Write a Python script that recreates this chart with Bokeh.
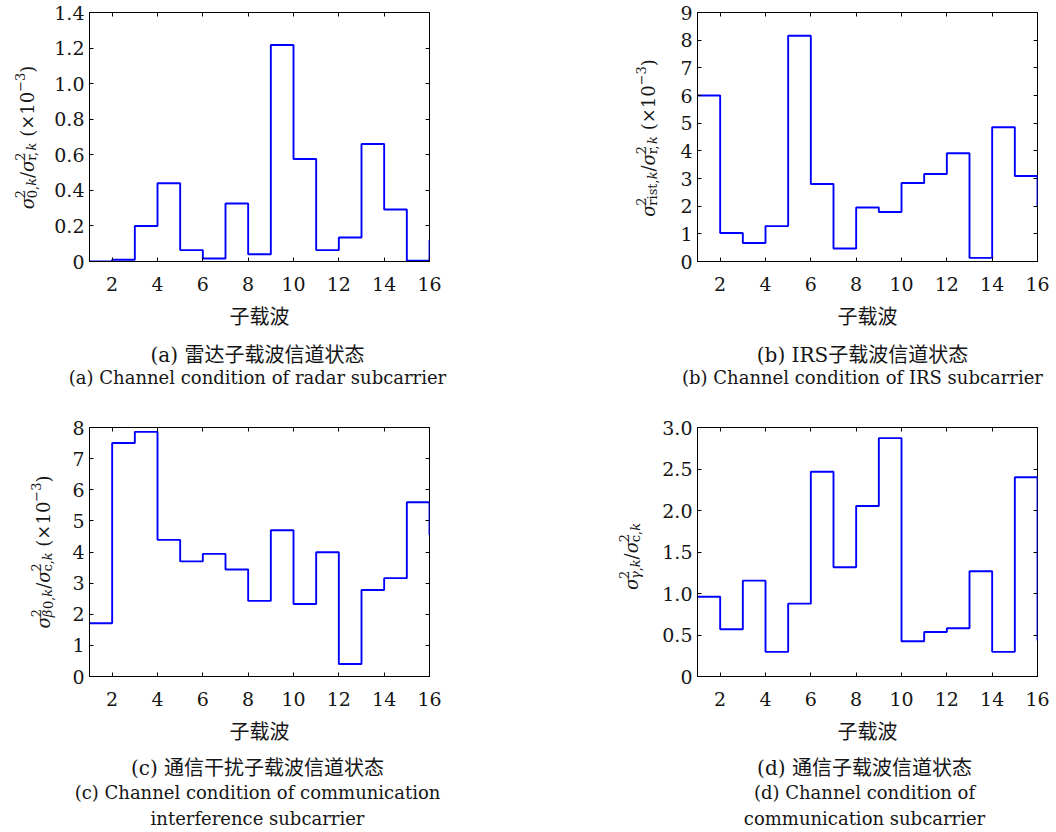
from bokeh.plotting import figure
from bokeh.models import Range1d, LinearAxis, FixedTicker, CustomJSTickFormatter, ColumnDataSource
from bokeh.layouts import row, column
from bokeh.embed import file_html
from bokeh.resources import INLINE
from bokeh.core.properties import value

# ---------------- data ----------------
subcarrier = list(range(1, 17))
radar_ratio = [0.0, 0.01, 0.20, 0.44, 0.064, 0.017, 0.326, 0.041,
               1.217, 0.576, 0.064, 0.135, 0.661, 0.292, 0.004, 0.12]
irs_ratio = [6.0, 1.03, 0.67, 1.28, 8.16, 2.80, 0.47, 1.95,
             1.79, 2.84, 3.16, 3.91, 0.13, 4.85, 3.09, 2.01]
interf_ratio = [1.71, 7.50, 7.86, 4.39, 3.70, 3.94, 3.44, 2.43,
                4.70, 2.33, 3.99, 0.40, 2.78, 3.16, 5.60, 4.55]
comm_ratio = [0.96, 0.57, 1.155, 0.297, 0.878, 2.467, 1.316, 2.054,
              2.872, 0.425, 0.537, 0.582, 1.268, 0.297, 2.40, 0.433]

x_ticks = [2, 4, 6, 8, 10, 12, 14, 16]
x_tick_labels = ["2", "4", "6", "8", "10", "12", "14", "16"]
radar_ticks = [0, 0.2, 0.4, 0.6, 0.8, 1.0, 1.2, 1.4]
radar_tick_labels = ["0", "0.2", "0.4", "0.6", "0.8", "1.0", "1.2", "1.4"]
irs_ticks = [0, 1, 2, 3, 4, 5, 6, 7, 8, 9]
irs_tick_labels = ["0", "1", "2", "3", "4", "5", "6", "7", "8", "9"]
interf_ticks = [0, 1, 2, 3, 4, 5, 6, 7, 8]
interf_tick_labels = ["0", "1", "2", "3", "4", "5", "6", "7", "8"]
comm_ticks = [0, 0.5, 1.0, 1.5, 2.0, 2.5, 3.0]
comm_tick_labels = ["0", "0.5", "1.0", "1.5", "2.0", "2.5", "3.0"]

x_title = "子载波"
captions_a = ["(a) 雷达子载波信道状态", "(a) Channel condition of radar subcarrier"]
captions_b = ["(b) IRS子载波信道状态", "(b) Channel condition of IRS subcarrier"]
captions_c = ["(c) 通信干扰子载波信道状态", "(c) Channel condition of communication",
              "interference subcarrier"]
captions_d = ["(d) 通信子载波信道状态", "(d) Channel condition of", "communication subcarrier"]

# y-axis titles as math-like pieces: main text, stacked sup/sub, gaps
ylab_a = [("m", "σ", True), ("ss", [("2", False)], [("0,", False), ("k", True)]),
          ("m", "/", False), ("m", "σ", True), ("ss", [("2", False)], [("r,", False), ("k", True)]),
          ("gap", 0.32), ("m", "(×10", False), ("ss", [("−3", False)], []), ("m", ")", False)]
ylab_b = [("m", "σ", True), ("ss", [("2", False)], [("rist,", False), ("k", True)]),
          ("m", "/", False), ("m", "σ", True), ("ss", [("2", False)], [("r,", False), ("k", True)]),
          ("gap", 0.32), ("m", "(×10", False), ("ss", [("−3", False)], []), ("m", ")", False)]
ylab_c = [("m", "σ", True), ("ss", [("2", False)], [("β", True), ("0,", False), ("k", True)]),
          ("m", "/", False), ("m", "σ", True), ("ss", [("2", False)], [("c,", False), ("k", True)]),
          ("gap", 0.32), ("m", "(×10", False), ("ss", [("−3", False)], []), ("m", ")", False)]
ylab_d = [("m", "σ", True), ("ss", [("2", False)], [("γ", True), (",", False), ("k", True)]),
          ("m", "/", False), ("m", "σ", True), ("ss", [("2", False)], [("c,", False), ("k", True)])]

# ---------------- style ----------------
SERIF = "DejaVu Serif"
CJK = "Noto Sans CJK SC"
MIXED = "DejaVu Serif, Noto Sans CJK SC"
TXT = "#151515"
LINE = "#0000ff"
MAIN = 18
SCRIPT = 13
TICK = "19px"

REG = {c: 0.636 for c in "0123456789"}
REG.update({",": 0.318, "(": 0.390, ")": 0.390, "×": 0.838, "−": 0.838, "/": 0.337,
            "r": 0.478, "i": 0.320, "s": 0.513, "t": 0.402, "c": 0.560})
ITA = {"σ": 0.62, "k": 0.60, "β": 0.64, "γ": 0.58}


def tw(s, size, italic):
    table = ITA if italic else REG
    return sum(table.get(ch, 0.6) for ch in s) * size


def blank_fig(w, h, top=0, bottom=0):
    # frame spans rows [top, h-bottom] of the figure; data y == pixel row from figure top
    p = figure(width=w, height=h, x_range=Range1d(0, w), y_range=Range1d(h - bottom, top),
               x_axis_type=None, y_axis_type=None, min_border=0,
               min_border_top=top, min_border_bottom=bottom,
               output_backend="svg", toolbar_location=None)
    p.outline_line_color = None
    p.background_fill_color = "white"
    p.border_fill_color = "white"
    return p


def ylabel_fig(w, h, top, bottom, spec, base_x, center_y):
    def run_len(runs):
        return sum(tw(t, SCRIPT, it) for t, it in runs)

    total = 0.0
    for item in spec:
        if item[0] == "m":
            total += tw(item[1], MAIN, item[2])
        elif item[0] == "gap":
            total += item[1] * MAIN
        else:
            total += max(run_len(item[1]), run_len(item[2]))
    start = center_y + total / 2

    pieces = {True: dict(x=[], y=[], text=[], size=[]), False: dict(x=[], y=[], text=[], size=[])}

    def put(text, dx, along, size, italic):
        d = pieces[italic]
        d["x"].append(base_x + dx)
        d["y"].append(start - along)
        d["text"].append(text)
        d["size"].append(f"{size}px")

    pos = 0.0
    for item in spec:
        if item[0] == "m":
            put(item[1], 0, pos, MAIN, item[2])
            pos += tw(item[1], MAIN, item[2])
        elif item[0] == "gap":
            pos += item[1] * MAIN
        else:
            sup, sub = item[1], item[2]
            a = pos
            for t, it in sup:
                put(t, -8, a, SCRIPT, it)
                a += tw(t, SCRIPT, it)
            a = pos
            for t, it in sub:
                put(t, 4, a, SCRIPT, it)
                a += tw(t, SCRIPT, it)
            pos += max(run_len(sup), run_len(sub))

    p = blank_fig(w, h, top, bottom)
    for italic, d in pieces.items():
        if not d["text"]:
            continue
        p.text(x="x", y="y", text="text", source=ColumnDataSource(d), angle=90, angle_units="deg",
               text_align="left", text_baseline="alphabetic", text_font=value(SERIF),
               text_font_size="size", text_font_style="italic" if italic else "normal",
               text_color=TXT)
    return p


def caption_fig(h, captions, cx, ys):
    p = blank_fig(528, h)
    fonts = [MIXED, SERIF, SERIF]
    sizes = ["20px", "18px", "18px"]
    for i, txt in enumerate(captions):
        p.text(x=[cx], y=[ys[i]], text=[txt], text_align="center", text_baseline="middle",
               text_font=value(fonts[i]), text_font_size=sizes[i], text_color=TXT)
    return p


def style_axis(ax, ticks, labels):
    ax.ticker = FixedTicker(ticks=ticks)
    ax.major_label_overrides = dict(zip(ticks, labels))
    ax.major_tick_in = 4
    ax.major_tick_out = 0
    ax.minor_tick_line_color = None
    ax.major_tick_line_color = "black"
    ax.axis_line_color = "black"
    ax.major_label_text_font = SERIF
    ax.major_label_text_font_size = TICK
    ax.major_label_text_color = TXT


def mirror_axis(ticks):
    return LinearAxis(ticker=FixedTicker(ticks=ticks),
                      formatter=CustomJSTickFormatter(code="return ''"),
                      major_label_text_font_size="0px", major_label_standoff=0,
                      axis_line_color=None, major_tick_in=4, major_tick_out=0,
                      major_tick_line_color="black", minor_tick_line_color=None)


def main_fig(values, ymax, yticks, ylabels, w, h, left, right, top, bottom):
    p = figure(width=w, height=h, x_range=Range1d(1, 16), y_range=Range1d(0, ymax),
               output_backend="svg", toolbar_location=None,
               min_border_left=left, min_border_right=right,
               min_border_top=top, min_border_bottom=bottom)
    p.xgrid.visible = False
    p.ygrid.visible = False
    p.outline_line_color = "black"
    p.outline_line_alpha = 1.0
    p.background_fill_color = "white"
    p.border_fill_color = "white"

    p.step(subcarrier, values, mode="after", line_color=LINE, line_width=1.9)

    style_axis(p.xaxis[0], x_ticks, x_tick_labels)
    style_axis(p.yaxis[0], yticks, ylabels)
    p.xaxis[0].major_label_standoff = 15
    p.yaxis[0].major_label_standoff = 5
    p.xaxis[0].axis_label = x_title
    p.xaxis[0].axis_label_text_font = CJK
    p.xaxis[0].axis_label_text_font_size = "20px"
    p.xaxis[0].axis_label_text_font_style = "normal"
    p.xaxis[0].axis_label_text_color = TXT
    p.xaxis[0].axis_label_standoff = 7

    p.add_layout(mirror_axis(x_ticks), "above")
    p.add_layout(mirror_axis(yticks), "right")
    return p


# ---- quadrant (a) ----
H1, T1, B1 = 339, 12, 78
ya = ylabel_fig(50, H1, T1, B1, ylab_a, 27, 137)
ma = main_fig(radar_ratio, 1.4, radar_ticks, radar_tick_labels, 478, H1, 39, 99, T1, B1)
ca = caption_fig(416 - H1, captions_a, 257, [15, 38])

# ---- quadrant (b) ----
yb = ylabel_fig(134, H1, T1, B1, ylab_b, 120, 137.5)
mb = main_fig(irs_ratio, 9, irs_ticks, irs_tick_labels, 394, H1, 35, 19, T1, B1)
cb = caption_fig(416 - H1, captions_b, 334, [15, 38])

# ---- quadrant (c) ----
H2, T2, B2 = 338, 11, 78
yc = ylabel_fig(56, H2, T2, B2, ylab_c, 43, 135.5)
mc = main_fig(interf_ratio, 8, interf_ticks, interf_tick_labels, 472, H2, 33, 99, T2, B2)
cc = caption_fig(416 - H2, captions_c, 257, [13, 38, 64])

# ---- quadrant (d) ----
yd = ylabel_fig(117, H2, T2, B2, ylab_d, 103, 140)
md = main_fig(comm_ratio, 3.0, comm_ticks, comm_tick_labels, 411, H2, 52, 19, T2, B2)
cd = caption_fig(416 - H2, captions_d, 336, [13, 38, 64])

layout = column(
    row(column(row(ya, ma), ca), column(row(yb, mb), cb)),
    row(column(row(yc, mc), cc), column(row(yd, md), cd)),
)

open("out.html", "w").write(file_html(layout, INLINE))
